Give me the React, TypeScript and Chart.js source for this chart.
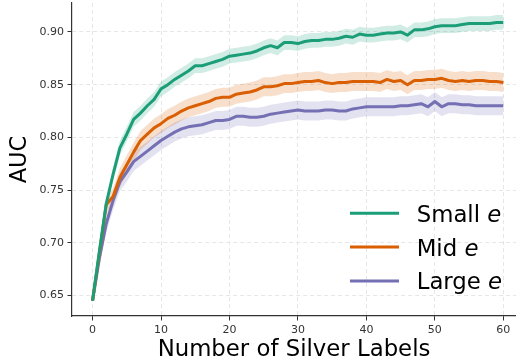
import React, { useEffect, useRef } from 'react';
import { Chart, registerables } from 'chart.js';

Chart.register(...registerables);

const xValues = [
  0, 1, 2, 3, 4, 5, 6, 7, 8, 9,
  10, 11, 12, 13, 14, 15, 16, 17, 18, 19,
  20, 21, 22, 23, 24, 25, 26, 27, 28, 29,
  30, 31, 32, 33, 34, 35, 36, 37, 38, 39,
  40, 41, 42, 43, 44, 45, 46, 47, 48, 49,
  50, 51, 52, 53, 54, 55, 56, 57, 58, 59,
  60,
];

const smallE = [
  0.645, 0.692, 0.737, 0.765, 0.790, 0.803, 0.817, 0.823, 0.830, 0.836,
  0.846, 0.850, 0.855, 0.859, 0.863, 0.868, 0.868, 0.870, 0.872, 0.874,
  0.877, 0.878, 0.879, 0.880, 0.882, 0.885, 0.887, 0.885, 0.890, 0.890,
  0.889, 0.891, 0.892, 0.892, 0.893, 0.893, 0.894, 0.896, 0.895, 0.898,
  0.897, 0.897, 0.898, 0.899, 0.899, 0.900, 0.897, 0.902, 0.902, 0.903,
  0.905, 0.906, 0.906, 0.906, 0.907, 0.908, 0.908, 0.908, 0.908, 0.909,
  0.909,
];

const midE = [
  0.645, 0.690, 0.736, 0.744, 0.762, 0.774, 0.786, 0.797, 0.803, 0.809,
  0.813, 0.818, 0.821, 0.825, 0.828, 0.830, 0.832, 0.834, 0.837, 0.838,
  0.838, 0.841, 0.842, 0.843, 0.845, 0.848, 0.848, 0.849, 0.851, 0.851,
  0.852, 0.853, 0.853, 0.854, 0.852, 0.851, 0.852, 0.852, 0.853, 0.853,
  0.853, 0.853, 0.852, 0.855, 0.853, 0.854, 0.850, 0.854, 0.854, 0.855,
  0.855, 0.856, 0.854, 0.853, 0.854, 0.853, 0.854, 0.854, 0.853, 0.853,
  0.852,
];

const largeE = [
  0.645, 0.685, 0.718, 0.740, 0.758, 0.767, 0.777, 0.782, 0.787, 0.792,
  0.797, 0.801, 0.805, 0.808, 0.810, 0.811, 0.812, 0.814, 0.816, 0.816,
  0.817, 0.820, 0.820, 0.819, 0.819, 0.820, 0.822, 0.823, 0.824, 0.825,
  0.826, 0.825, 0.825, 0.825, 0.826, 0.826, 0.825, 0.825, 0.827, 0.828,
  0.829, 0.829, 0.829, 0.829, 0.829, 0.830, 0.830, 0.831, 0.832, 0.829,
  0.834, 0.829, 0.832, 0.832, 0.831, 0.831, 0.830, 0.830, 0.830, 0.830,
  0.830,
];

const smallStd = [
  0.001, 0.004, 0.006, 0.007, 0.007, 0.007, 0.007, 0.007, 0.007, 0.007,
  0.007, 0.007, 0.007, 0.007, 0.007, 0.007, 0.007, 0.007, 0.007, 0.007,
  0.007, 0.007, 0.007, 0.007, 0.007, 0.007, 0.007, 0.007, 0.007, 0.007,
  0.007, 0.007, 0.007, 0.007, 0.007, 0.007, 0.007, 0.007, 0.007, 0.007,
  0.007, 0.007, 0.007, 0.007, 0.007, 0.007, 0.007, 0.007, 0.007, 0.007,
  0.007, 0.007, 0.007, 0.007, 0.007, 0.007, 0.007, 0.007, 0.007, 0.007,
  0.007,
];

const midStd = [
  0.001, 0.005, 0.007, 0.008, 0.009, 0.009, 0.009, 0.009, 0.009, 0.009,
  0.009, 0.009, 0.009, 0.009, 0.009, 0.009, 0.009, 0.009, 0.009, 0.009,
  0.009, 0.009, 0.009, 0.009, 0.009, 0.009, 0.009, 0.009, 0.009, 0.009,
  0.009, 0.009, 0.009, 0.009, 0.009, 0.009, 0.009, 0.009, 0.009, 0.009,
  0.009, 0.009, 0.009, 0.009, 0.009, 0.009, 0.009, 0.009, 0.009, 0.009,
  0.009, 0.009, 0.009, 0.009, 0.009, 0.009, 0.009, 0.009, 0.009, 0.009,
  0.009,
];

const largeStd = [
  0.001, 0.006, 0.008, 0.009, 0.009, 0.009, 0.009, 0.009, 0.009, 0.009,
  0.009, 0.009, 0.009, 0.009, 0.009, 0.009, 0.009, 0.009, 0.009, 0.009,
  0.009, 0.009, 0.009, 0.009, 0.009, 0.009, 0.009, 0.009, 0.009, 0.009,
  0.009, 0.009, 0.009, 0.009, 0.009, 0.009, 0.009, 0.009, 0.009, 0.009,
  0.009, 0.009, 0.009, 0.009, 0.009, 0.009, 0.009, 0.009, 0.009, 0.009,
  0.009, 0.009, 0.009, 0.009, 0.009, 0.009, 0.009, 0.009, 0.009, 0.009,
  0.009,
];

const xTicks = [0, 10, 20, 30, 40, 50, 60];
const yTicks = [0.65, 0.7, 0.75, 0.8, 0.85, 0.9];

const seriesNames = ['Small', 'Mid', 'Large'];
const seriesValues = [smallE, midE, largeE];
const seriesStd = [smallStd, midStd, largeStd];
const lineColors = ['#1b9e77', '#d95f02', '#7570b3'];
const bandColors = ['rgba(27,158,119,0.2)', 'rgba(217,95,2,0.2)', 'rgba(117,112,179,0.2)'];

const FONT = '"DejaVu Sans", sans-serif';

const legendPlugin = {
  id: 'customLegend',
  afterDraw(chart: any) {
    const { ctx, chartArea } = chart;
    const size = 22.8;
    ctx.save();
    for (let i = 0; i < seriesNames.length; i++) {
      const baseY = chartArea.bottom - 94.3 + i * 33.8;
      const lineY = baseY - 8.4;
      ctx.strokeStyle = lineColors[i];
      ctx.lineWidth = 3;
      ctx.lineCap = 'butt';
      ctx.beginPath();
      ctx.moveTo(chartArea.right - 166, lineY);
      ctx.lineTo(chartArea.right - 117, lineY);
      ctx.stroke();
      ctx.fillStyle = '#000';
      ctx.textBaseline = 'alphabetic';
      ctx.textAlign = 'left';
      ctx.font = `${size}px ${FONT}`;
      const first = seriesNames[i] + ' ';
      const tx = chartArea.right - 99.3;
      ctx.fillText(first, tx, baseY);
      const w = ctx.measureText(first).width;
      ctx.font = `italic ${size}px ${FONT}`;
      ctx.fillText('e', tx + w, baseY);
    }
    ctx.restore();
  },
};

export default function App() {
  const canvasRef = useRef<HTMLCanvasElement | null>(null);

  useEffect(() => {
    const canvas = canvasRef.current;
    if (!canvas) return;

    const datasets: any[] = [];
    seriesValues.forEach((vals, i) => {
      const std = seriesStd[i];
      datasets.push({
        label: seriesNames[i] + ' upper',
        data: xValues.map((x, j) => ({ x, y: vals[j] + std[j] })),
        borderWidth: 0,
        pointRadius: 0,
        backgroundColor: bandColors[i],
        fill: '+1',
        order: 10,
      });
      datasets.push({
        label: seriesNames[i] + ' lower',
        data: xValues.map((x, j) => ({ x, y: vals[j] - std[j] })),
        borderWidth: 0,
        pointRadius: 0,
        backgroundColor: bandColors[i],
        fill: false,
        order: 10,
      });
    });
    seriesValues.forEach((vals, i) => {
      datasets.push({
        label: seriesNames[i] + ' e',
        data: xValues.map((x, j) => ({ x, y: vals[j] })),
        borderColor: lineColors[i],
        borderWidth: 3,
        pointRadius: 0,
        fill: false,
        tension: 0,
        borderJoinStyle: 'round',
        order: 0,
      });
    });

    const gridCommon = {
      color: '#e6e6e6',
      lineWidth: 1,
      tickColor: '#333',
      tickLength: 4.5,
      tickWidth: 1,
    };

    const chart = new Chart(canvas, {
      type: 'line',
      data: { datasets },
      plugins: [legendPlugin],
      options: {
        animation: false,
        responsive: false,
        layout: { padding: { top: 3, right: 0, left: 0, bottom: 0 } },
        plugins: {
          legend: { display: false },
          tooltip: { enabled: false },
          filler: { drawTime: 'beforeDatasetsDraw' } as any,
        },
        scales: {
          x: {
            type: 'linear',
            min: -3,
            max: 61.85,
            afterBuildTicks: (scale: any) => {
              scale.ticks = xTicks.map((v) => ({ value: v }));
            },
            afterFit: (scale: any) => {
              scale.height = 48;
              scale.paddingLeft = 0;
              scale.paddingRight = 0;
            },
            grid: gridCommon,
            border: { color: '#333', width: 1.2, dash: [4, 3] },
            ticks: {
              color: '#333',
              font: { family: FONT, size: 11 },
              padding: 3,
              maxRotation: 0,
              callback: (v: any) => String(v),
            },
            title: {
              display: true,
              text: 'Number of Silver Labels',
              color: '#000',
              font: { family: FONT, size: 22.8 },
              padding: { top: 0, bottom: 0 },
            },
          },
          y: {
            type: 'linear',
            min: 0.6305,
            max: 0.9275,
            afterBuildTicks: (scale: any) => {
              scale.ticks = yTicks.map((v) => ({ value: v }));
            },
            afterFit: (scale: any) => {
              scale.width = 72;
              scale.paddingTop = 0;
              scale.paddingBottom = 0;
            },
            grid: gridCommon,
            border: { color: '#333', width: 1.2, dash: [4, 3] },
            ticks: {
              color: '#333',
              font: { family: FONT, size: 11 },
              padding: 3.5,
              callback: (v: any) => Number(v).toFixed(2),
            },
            title: {
              display: true,
              text: 'AUC',
              color: '#000',
              font: { family: FONT, size: 22.5 },
              padding: { top: 6.5, bottom: 0 },
            },
          },
        },
      },
    });

    return () => {
      chart.destroy();
    };
  }, []);

  return (
    <div style={{ position: 'fixed', left: 0, top: 0, width: 516, height: 364, background: '#fff' }}>
      <canvas ref={canvasRef} width={516} height={364} />
    </div>
  );
}
